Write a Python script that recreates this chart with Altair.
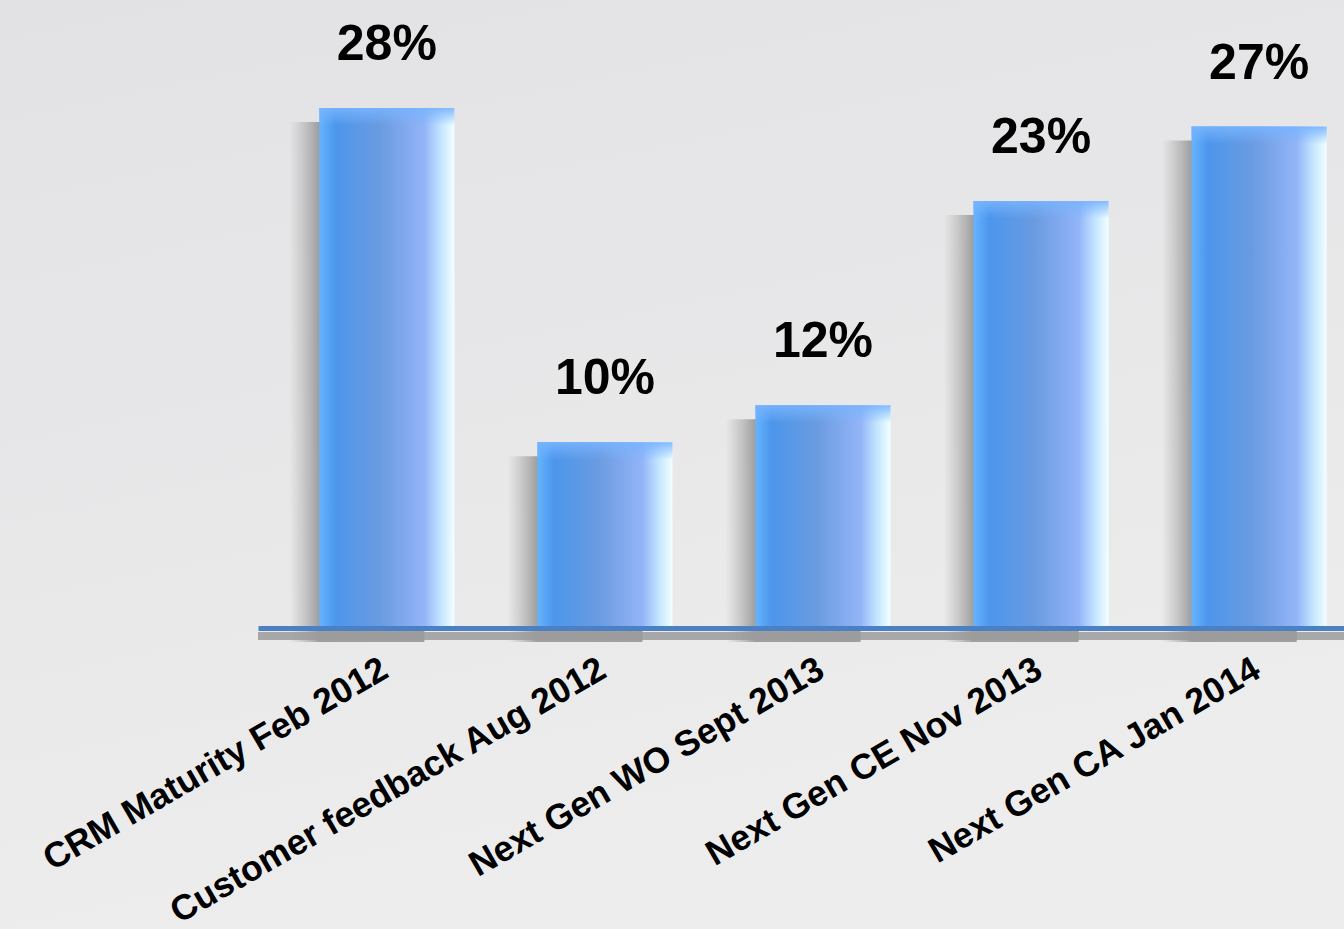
import altair as alt
import pandas as pd

categories = ["CRM Maturity Feb 2012", "Customer feedback Aug 2012", "Next Gen WO Sept 2013",
              "Next Gen CE Nov 2013", "Next Gen CA Jan 2014"]
values = [28, 10, 12, 23, 27]
labels = ["28%", "10%", "12%", "23%", "27%"]

df = pd.DataFrame({"cat": categories, "value": values, "label": labels})

FONT = "Liberation Sans"
W, H = 1086, 608
YDOM = [0, 32.74]

xenc = alt.X("cat:N", sort=categories,
             scale=alt.Scale(paddingInner=0.38, paddingOuter=0.18, align=0.78),
             axis=alt.Axis(title=None, domain=True, domainColor="#4c80c4", domainWidth=5,
                           ticks=False, grid=False, zindex=1,
                           labelAngle=-30, labelAlign="right", labelBaseline="middle",
                           labelFont=FONT, labelFontSize=35.5, labelFontWeight="bold",
                           labelColor="#000000", labelPadding=38, labelOffset=-2,
                           labelLimit=0, labelOverlap=False))
yenc = alt.Y("value:Q", scale=alt.Scale(domain=YDOM, nice=False, zero=True), axis=None)

base = alt.Chart(df)

bg = base.mark_rect(
    color=alt.Gradient(gradient="linear",
                       stops=[alt.GradientStop(color="#e2e2e4", offset=0),
                              alt.GradientStop(color="#ededee", offset=1)],
                       x1=0, x2=0.3, y1=0, y2=1)
).encode(x=alt.value(-258), x2=alt.value(W), y=alt.value(-20), y2=alt.value(H + 301))

shadow = base.mark_bar(
    xOffset=-30, yOffset=14,
    color=alt.Gradient(gradient="linear",
                       stops=[alt.GradientStop(color="rgba(160,160,160,0)", offset=0),
                              alt.GradientStop(color="rgba(140,140,140,0.8)", offset=0.22),
                              alt.GradientStop(color="rgba(140,140,140,0.8)", offset=1)],
                       x1=0, x2=1, y1=0, y2=0)
).encode(x=xenc, y=yenc)

bars = base.mark_bar(
    color=alt.Gradient(gradient="linear",
                       stops=[alt.GradientStop(color="#66b4ff", offset=0),
                              alt.GradientStop(color="#4c96ec", offset=0.12),
                              alt.GradientStop(color="#6a9be0", offset=0.45),
                              alt.GradientStop(color="#93b5f8", offset=0.78),
                              alt.GradientStop(color="#c4e6ff", offset=0.9),
                              alt.GradientStop(color="#f2ffff", offset=1)],
                       x1=0, x2=1, y1=0, y2=0)
).encode(x=xenc, y=yenc)

bevel = base.transform_calculate(bevel_bottom="datum.value - 0.95").mark_bar(
    color=alt.Gradient(gradient="linear",
                       stops=[alt.GradientStop(color="rgba(120,180,255,0.9)", offset=0),
                              alt.GradientStop(color="rgba(120,180,255,0)", offset=1)],
                       x1=0, x2=0, y1=0, y2=1)
).encode(x=xenc, y=yenc, y2="bevel_bottom:Q")

text = base.mark_text(font=FONT, fontSize=50, fontWeight="bold", color="#000000",
                      baseline="alphabetic", dy=-48).encode(x=xenc, y=yenc, text="label:N")

line_shadow = base.transform_calculate(zero="0").mark_rule(
    color="#9a9a9a", strokeWidth=8, opacity=0.3, yOffset=8
).encode(y=alt.Y("zero:Q", scale=alt.Scale(domain=YDOM, nice=False, zero=True), axis=None))

chart = alt.layer(bg, shadow, bars, bevel, line_shadow, text).properties(
    width=W, height=H,
    autosize=alt.AutoSizeParams(type="none"),
    padding={"left": 258, "top": 20, "right": 0, "bottom": 301},
    background="#e6e6e8",
).configure_view(stroke=None)

chart.save("out.html", embed_options={"renderer": "svg", "actions": False})
